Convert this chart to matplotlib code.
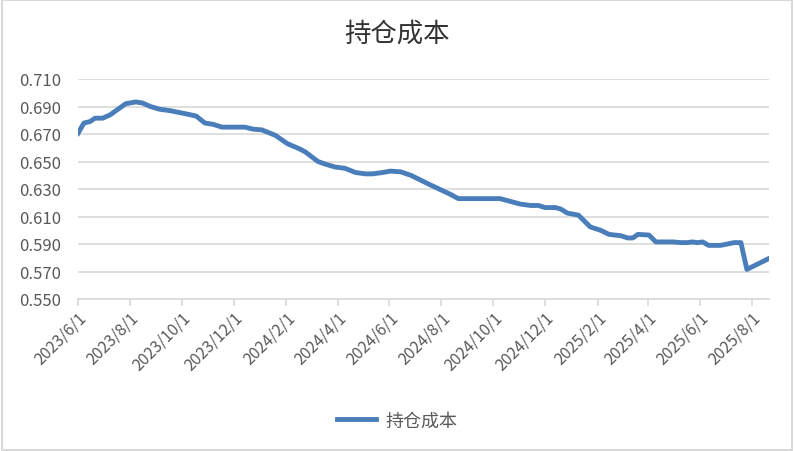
import numpy as np
import pandas as pd
import matplotlib.pyplot as plt
import matplotlib.dates as mdates

plt.rcParams['font.family'] = ['Noto Sans CJK SC', 'DejaVu Sans']

dates = ['2023-06-01', '2023-06-08', '2023-06-15', '2023-06-21', '2023-06-30',
         '2023-07-09', '2023-07-18', '2023-07-27', '2023-08-08', '2023-08-16',
         '2023-08-25', '2023-09-05', '2023-09-17', '2023-09-29', '2023-10-11',
         '2023-10-18', '2023-10-28', '2023-11-07', '2023-11-17', '2023-12-03',
         '2023-12-14', '2023-12-24', '2024-01-03', '2024-01-19', '2024-02-02',
         '2024-02-17', '2024-02-23', '2024-03-09', '2024-03-18', '2024-03-29',
         '2024-04-10', '2024-04-22', '2024-05-04', '2024-05-12', '2024-05-24',
         '2024-06-02', '2024-06-14', '2024-06-26', '2024-07-19', '2024-08-12',
         '2024-08-21', '2024-10-09', '2024-10-21', '2024-11-02', '2024-11-14',
         '2024-11-23', '2024-12-01', '2024-12-13', '2024-12-19', '2024-12-27',
         '2025-01-09', '2025-01-23', '2025-02-04', '2025-02-14', '2025-02-28',
         '2025-03-08', '2025-03-14', '2025-03-20', '2025-04-02', '2025-04-10',
         '2025-05-01', '2025-05-09', '2025-05-17', '2025-05-23', '2025-05-29',
         '2025-06-04', '2025-06-11', '2025-06-25', '2025-07-11', '2025-07-19',
         '2025-07-26', '2025-08-21']
cost = [0.6705, 0.678, 0.679, 0.6815, 0.6815,
        0.684, 0.688, 0.692, 0.6933, 0.6925,
        0.690, 0.688, 0.687, 0.6855, 0.684,
        0.683, 0.678, 0.677, 0.675, 0.675,
        0.675, 0.6735, 0.673, 0.669, 0.663,
        0.659, 0.657, 0.650, 0.648, 0.646,
        0.645, 0.642, 0.641, 0.641, 0.642,
        0.643, 0.6425, 0.640, 0.633, 0.626,
        0.623, 0.623, 0.621, 0.619, 0.618,
        0.618, 0.6165, 0.6165, 0.6155, 0.6125,
        0.611, 0.6024, 0.600, 0.597, 0.596,
        0.5944, 0.5944, 0.597, 0.5965, 0.5915,
        0.5915, 0.591, 0.591, 0.5915, 0.591,
        0.5915, 0.589, 0.589, 0.591, 0.591,
        0.5715, 0.5795]

x = pd.to_datetime(dates)

fig = plt.figure(figsize=(7.94, 4.52), dpi=100)
ax = fig.add_axes([78 / 794, 1 - 300 / 452, (769 - 78) / 794, 220 / 452])

ax.plot(x, cost, color='#4A7EBB', linewidth=3.5, label='持仓成本', solid_joinstyle='round')

ax.set_ylim(0.550, 0.710)
ax.set_yticks(np.arange(0.550, 0.7101, 0.020))
ax.yaxis.set_major_formatter(plt.FuncFormatter(lambda v, p: f'{v:.3f}'))
ax.set_xlim(pd.Timestamp('2023-06-01'), pd.Timestamp('2025-08-21'))
ax.xaxis.set_major_locator(mdates.MonthLocator(bymonth=[2, 4, 6, 8, 10, 12]))
ax.xaxis.set_major_formatter(plt.FuncFormatter(
    lambda v, p: f'{mdates.num2date(v).year}/{mdates.num2date(v).month}/1'))

ax.grid(axis='y', color='#D9D9D9', linewidth=1.2)
ax.set_axisbelow(True)
for s in ['top', 'right', 'left']:
    ax.spines[s].set_visible(False)
ax.spines['bottom'].set_color('#D9D9D9')
ax.spines['bottom'].set_linewidth(1.2)
ax.tick_params(axis='y', length=0, labelsize=12, labelcolor='#595959', pad=12)
ax.tick_params(axis='x', length=5, color='#D9D9D9', width=1.2, labelsize=11.5,
               labelcolor='#595959', pad=2)
for lbl in ax.get_xticklabels():
    lbl.set_rotation(45)
    lbl.set_ha('right')
    lbl.set_rotation_mode('anchor')

fig.text(0.5, 1 - 34 / 452, '持仓成本', ha='center', va='center', fontsize=19,
         fontweight='medium', color='#333333')
fig.legend(loc='center', bbox_to_anchor=(0.5, 0.068), frameon=False, fontsize=13,
           handlelength=2.2, handletextpad=0.5, labelcolor='#595959')

fig.patches.append(plt.Rectangle((0.002, 0.002), 0.996, 0.996, transform=fig.transFigure,
                                 fill=False, edgecolor='#D9D9D9', linewidth=1.5))

fig.savefig('out.png', dpi=100)
